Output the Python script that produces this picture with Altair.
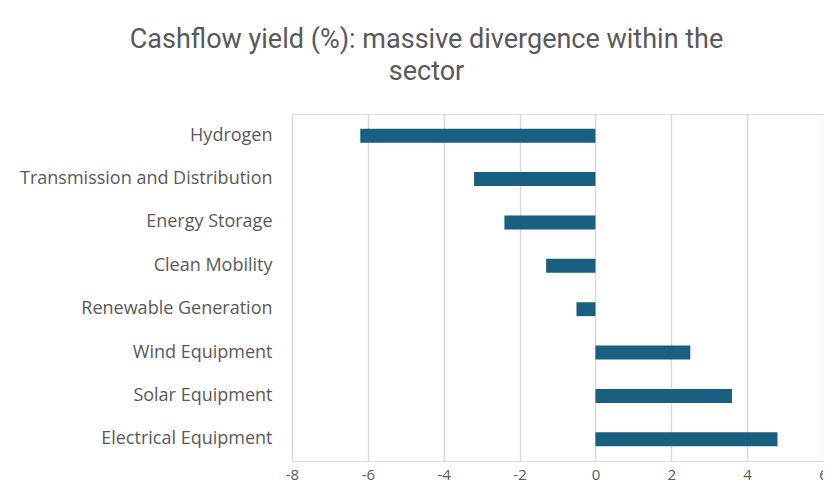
import altair as alt
import pandas as pd

categories = [
    "Hydrogen",
    "Transmission and Distribution",
    "Energy Storage",
    "Clean Mobility",
    "Renewable Generation",
    "Wind Equipment",
    "Solar Equipment",
    "Electrical Equipment",
]
values = [-6.2, -3.2, -2.4, -1.3, -0.5, 2.5, 3.6, 4.8]
x_ticks = [-8, -6, -4, -2, 0, 2, 4, 6]

df = pd.DataFrame({"sector": categories, "yield": values})

grey = "#595959"

chart = (
    alt.Chart(df)
    .mark_bar(color="#185F80")
    .encode(
        x=alt.X(
            "yield:Q",
            scale=alt.Scale(domain=[-8, 6], nice=False, zero=False),
            axis=alt.Axis(
                values=x_ticks,
                title=None,
                grid=True,
                gridColor="#D9D9D9",
                gridWidth=1.5,
                domain=False,
                ticks=False,
                labelFont="Open Sans",
                labelFontSize=15,
                labelColor=grey,
                labelPadding=6,
                labelFlush=False,
                labelExpr="toString(datum.value)",
            ),
        ),
        y=alt.Y(
            "sector:N",
            sort=categories,
            scale=alt.Scale(paddingInner=0.68, paddingOuter=0.34),
            axis=alt.Axis(
                title=None,
                domain=False,
                ticks=False,
                grid=False,
                labelFont="Open Sans",
                labelFontSize=18,
                labelColor=grey,
                labelPadding=20,
                labelLimit=400,
            ),
        ),
    )
    .properties(
        width=531,
        height=347,
        title=alt.TitleParams(
            text=["Cashflow yield (%): massive divergence within the", "sector"],
            font="Roboto",
            fontSize=27,
            fontWeight="normal",
            color=grey,
            lineHeight=32,
            anchor="middle",
            frame="group",
            dx=-131,
            offset=28,
        ),
        autosize=alt.AutoSizeParams(type="none"),
        padding={"left": 284, "top": 106, "right": 0, "bottom": 23},
    )
    .configure_view(stroke=None)
    .configure(background="white")
)

chart.save("out.html", embed_options={"renderer": "svg", "actions": False})
